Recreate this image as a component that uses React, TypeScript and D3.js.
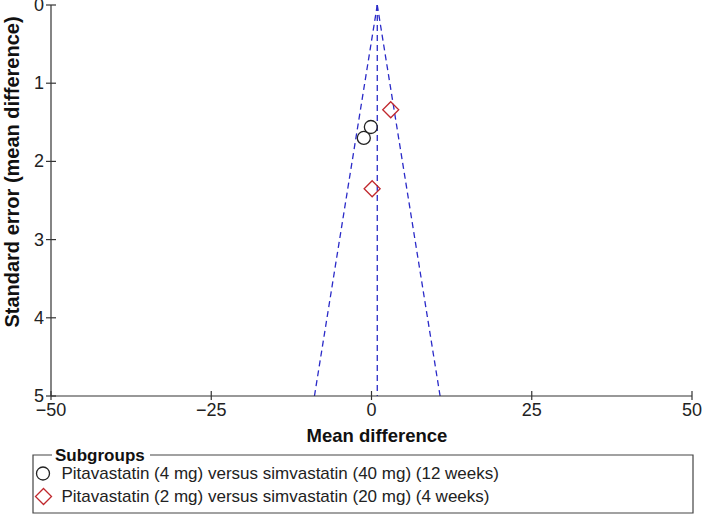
import React from "react";
import * as d3 from "d3";

const groupA = "Pitavastatin (4 mg) versus simvastatin (40 mg) (12 weeks)";
const groupB = "Pitavastatin (2 mg) versus simvastatin (20 mg) (4 weeks)";
const circleMD = [-0.1, -1.2];
const circleSE = [1.56, 1.7];
const diamondMD = [3.0, 0.1];
const diamondSE = [1.34, 2.35];
const pooledMD = 0.9;
const xTicks = [-50, -25, 0, 25, 50];
const yTicks = [0, 1, 2, 3, 4, 5];

export default function App() {
  const W = 702, H = 516;
  const x = d3.scaleLinear().domain([-50, 50]).range([51, 692]);
  const y = d3.scaleLinear().domain([0, 5]).range([5, 396]);
  const font = "Liberation Sans, Arial, sans-serif";
  const blue = "#2a2ac8";
  const red = "#c0282d";
  const dash = "6,4";
  const diamond = (cx: number, cy: number, r: number) =>
    `M${cx},${cy - r}L${cx + r},${cy}L${cx},${cy + r}L${cx - r},${cy}Z`;
  return (
    <svg width={W} height={H} style={{ position: "absolute", left: 0, top: 0 }} fontFamily={font}>
      <rect width={W} height={H} fill="#fff" />
      {/* funnel */}
      <line x1={x(pooledMD)} y1={y(0)} x2={x(pooledMD - 1.96 * 5)} y2={y(5)} stroke={blue} strokeWidth={1.3} strokeDasharray={dash} />
      <line x1={x(pooledMD)} y1={y(0)} x2={x(pooledMD + 1.96 * 5)} y2={y(5)} stroke={blue} strokeWidth={1.3} strokeDasharray={dash} />
      <line x1={x(pooledMD)} y1={y(0)} x2={x(pooledMD)} y2={y(5)} stroke={blue} strokeWidth={1.3} strokeDasharray={dash} />
      {/* axes */}
      <line x1={x(-50)} y1={y(0)} x2={x(-50)} y2={y(5)} stroke="#333" strokeWidth={1.2} />
      <line x1={x(-50)} y1={y(5)} x2={x(50)} y2={y(5)} stroke="#333" strokeWidth={1.2} />
      {yTicks.map((t) => (
        <g key={"y" + t}>
          <line x1={x(-50) - 5} x2={x(-50) + 5} y1={y(t)} y2={y(t)} stroke="#333" strokeWidth={1.2} />
          <text x={x(-50) - 7} y={y(t) + 6} textAnchor="end" fontSize={18} fill="#222">{t}</text>
        </g>
      ))}
      {xTicks.map((t) => (
        <g key={"x" + t}>
          <line x1={x(t)} x2={x(t)} y1={y(5) - 5} y2={y(5) + 4} stroke="#333" strokeWidth={1.2} />
          <text x={x(t)} y={y(5) + 20} textAnchor="middle" fontSize={18} fill="#222">{t < 0 ? "\u2212" + Math.abs(t) : t}</text>
        </g>
      ))}
      <text x={377} y={442} textAnchor="middle" fontSize={18.5} fontWeight="bold" fill="#111">Mean difference</text>
      <text transform={`translate(19,172) rotate(-90)`} textAnchor="middle" fontSize={20} fontWeight="bold" fill="#111">Standard error (mean difference)</text>
      {/* points */}
      {circleMD.map((m, i) => (
        <circle key={"c" + i} cx={x(m)} cy={y(circleSE[i])} r={6.5} fill="none" stroke="#222" strokeWidth={1.3} />
      ))}
      {diamondMD.map((m, i) => (
        <path key={"d" + i} d={diamond(x(m), y(diamondSE[i]), 8)} fill="none" stroke={red} strokeWidth={1.3} />
      ))}
      {/* legend */}
      <path d={`M52,455 L33,455 L33,513 L693,513 L693,455 L150,455`} fill="none" stroke="#444" strokeWidth={1.2} />
      <text x={55} y={461} fontSize={17} fontWeight="bold" fill="#111">Subgroups</text>
      <circle cx={43} cy={473.5} r={6.5} fill="none" stroke="#222" strokeWidth={1.3} />
      <text x={61.5} y={479} fontSize={17} fill="#222">{groupA}</text>
      <path d={diamond(43.5, 496.5, 8)} fill="none" stroke={red} strokeWidth={1.3} />
      <text x={61.5} y={502} fontSize={17} fill="#222">{groupB}</text>
    </svg>
  );
}
